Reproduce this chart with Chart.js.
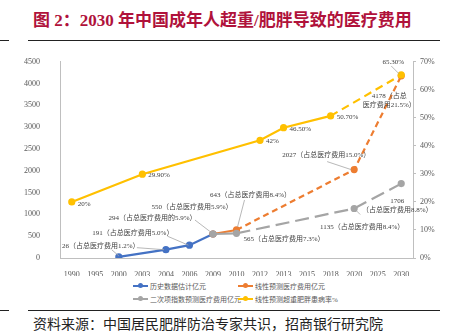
<!DOCTYPE html>
<html>
<head>
<meta charset="utf-8">
<script src="https://cdn.jsdelivr.net/npm/chart.js@4.4.1/dist/chart.umd.min.js"></script>
<style>
  body { margin: 0; background: #fff; width: 450px; height: 334px; overflow: hidden; position: relative; }
  #title { position: absolute; left: 33px; top: 6px; font: bold 17px "Liberation Serif", "Noto Sans CJK SC"; color: #B0123B; white-space: nowrap; }
  .rule { position: absolute; height: 0; border-top: 1.5px solid #222; }
  #footer { position: absolute; left: 33px; top: 313px; font: 14px "Liberation Serif", "Noto Sans CJK SC"; color: #222; white-space: nowrap; }
  #chart { position: absolute; left: 0; top: 45px; }
  .lg { position: absolute; font: 7px "Liberation Serif", "Noto Sans CJK SC"; color: #595959; white-space: nowrap; display: flex; align-items: center; }
  .lg i { display: inline-block; width: 15px; height: 2px; position: relative; margin-right: 2px; }
  .lg i b { position: absolute; left: 5px; top: -2px; width: 5px; height: 5px; border-radius: 50%; }
</style>
</head>
<body>
<div id="title">图 2：2030 年中国成年人超重/肥胖导致的医疗费用</div>
<div class="rule" style="left:0;width:9px;top:40px"></div>
<div class="rule" style="left:28px;width:412px;top:40px"></div>
<canvas id="chart" width="450" height="231"></canvas>
<div id="legend"></div>
<div class="rule" style="left:0;width:9px;top:310px"></div>
<div class="rule" style="left:28px;width:412px;top:310px"></div>
<div id="footer">资料来源：中国居民肥胖防治专家共识，招商银行研究院</div>
<script>
// categories
const years = ['1990','1995','2000','2003','2004','2006','2009','2010','2012','2013','2015','2018','2020','2025','2030'];
// 亿元
const history   = [null,null,26,null,191,294,550,null,null,null,null,null,null,null,null];
const linearEst = [null,null,null,null,null,null,550,643,null,null,null,null,2027,null,4178];
const quadEst   = [null,null,null,null,null,null,550,565,null,null,null,null,1135,null,1706];
// %
const obesityRate = [20,null,null,29.9,null,null,null,null,42,46.5,null,50.7,null,null,65.3];

const names = ['历史数据估计亿元','线性预测医疗费用亿元','二次项指数预测医疗费用亿元','线性预测超重肥胖患病率%'];
const colors = ['#4472C4','#ED7D31','#A5A5A5','#FFC000'];

const serif = '"Liberation Serif", "Noto Sans CJK SC"';
const tickColor = '#595959';

// labels: [dataset, index, text lines, dx, dy, align, leader [x1,y1,x2,y2] relative to point]
const notes = [
  [3, 0, ['20%'], 6, 2, 'left'],
  [3, 3, ['29.90%'], 6, 1, 'left'],
  [3, 8, ['42%'], 6, 1, 'left'],
  [3, 9, ['46.50%'], 6, 1, 'left'],
  [3, 11, ['50.70%'], 6, 1, 'left'],
  [3, 14, ['65.30%'], -8, -13, 'center', [-10,-9,-2,-1]],
  [1, 14, ['4178（占总','医疗费用21.5%）'], -12, 20, 'center'],
  [1, 12, ['2027（占总医疗费用15.0%）'], -28, -14, 'center', [-27,-8,-3,0]],
  [1, 7, ['643（占总医疗费用8.4%）'], 14, -35, 'center', [8,-30,1,-3]],
  [2, 7, ['565（占总医疗费用7.3%）'], 7, 6, 'left'],
  [2, 12, ['1135（占总医疗费用8.4%）'], 8, 19, 'center', [6,6,1,1]],
  [2, 14, ['1706','（占总医疗费用8.8%）'], -4, 18, 'center'],
  [0, 6, ['550（占总医疗费用5.9%）'], -21, -27, 'center', [-18,-14,-1,-1]],
  [0, 5, ['294（占总医疗费用的5.9%）'], -37, -27, 'center', [-22,-9,-1,0]],
  [0, 4, ['191（占总医疗费用5.0%）'], -33, -17, 'center', [-29,-2,-2,0]],
  [0, 2, ['26（占总医疗费用1.2%）'], -18, -11, 'center', [-7,-7,0,-1]]
];

const notePlugin = {
  id: 'notes',
  afterDatasetsDraw(chart) {
    const ctx = chart.ctx;
    ctx.save();
    ctx.font = '7px ' + serif;
    ctx.fillStyle = '#404040';
    ctx.textBaseline = 'middle';
    notes.forEach(n => {
      const [ds, i, lines, dx, dy, align, leader] = n;
      const pt = chart.getDatasetMeta(ds).data[i];
      const px = pt.x, py = pt.y;
      if (leader) {
        ctx.strokeStyle = '#a6a6a6';
        ctx.lineWidth = 0.8;
        ctx.beginPath();
        ctx.moveTo(px + leader[0], py + leader[1]);
        ctx.lineTo(px + leader[2], py + leader[3]);
        ctx.stroke();
      }
      ctx.textAlign = align;
      lines.forEach((t, k) => ctx.fillText(t, px + dx, py + dy + k * 9));
    });
    ctx.restore();
  }
};

function dashFrom(start, dash) {
  return { borderDash: c => c.p0DataIndex >= start ? dash : undefined };
}

new Chart(document.getElementById('chart').getContext('2d'), {
  type: 'line',
  data: {
    labels: years,
    datasets: [
      { label: names[0], data: history, yAxisID: 'y' },
      { label: names[1], data: linearEst, yAxisID: 'y', segment: dashFrom(7, [6, 4]) },
      { label: names[2], data: quadEst, yAxisID: 'y', segment: dashFrom(7, [14, 6]) },
      { label: names[3], data: obesityRate, yAxisID: 'y2', segment: dashFrom(11, [8, 5]) }
    ].map((d, k) => Object.assign(d, {
      borderColor: colors[k], backgroundColor: colors[k], pointBackgroundColor: colors[k],
      pointBorderColor: colors[k], borderWidth: 2.2, pointRadius: 2.5, spanGaps: true,
      tension: 0, order: 4 - k
    }))
  },
  options: {
    responsive: false,
    animation: false,
    layout: { padding: { top: 14, left: 0, right: 0, bottom: 0 } },
    plugins: { legend: { display: false }, tooltip: { enabled: false } },
    scales: {
      x: {
        offset: true,
        grid: { display: false },
        border: { color: '#bfbfbf' },
        ticks: { color: tickColor, font: { family: serif, size: 8 }, padding: 4, maxRotation: 0, autoSkip: false },
        afterFit: s => { s.height = 18; }
      },
      y: {
        position: 'left', min: 0, max: 4500,
        grid: { display: false },
        border: { color: '#bfbfbf' },
        ticks: { stepSize: 500, color: tickColor, font: { family: serif, size: 8 }, padding: 12, callback: v => String(v) },
        afterFit: s => { s.width = 60; }
      },
      y2: {
        position: 'right', min: 0, max: 70,
        grid: { drawOnChartArea: false, tickLength: 3, color: '#bfbfbf' },
        border: { color: '#bfbfbf' },
        ticks: { stepSize: 10, color: tickColor, font: { family: serif, size: 8 }, padding: 4, callback: v => v + '%' },
        afterFit: s => { s.width = 37; }
      }
    }
  },
  plugins: [notePlugin]
});

// legend, two items per row
const lgPos = [[133, 286], [238, 286], [133, 299], [238, 299]];
const lg = document.getElementById('legend');
names.forEach((n, k) => {
  const d = document.createElement('div');
  d.className = 'lg';
  d.style.left = lgPos[k][0] + 'px';
  d.style.top = (lgPos[k][1] - 5) + 'px';
  d.innerHTML = '<i style="background:' + colors[k] + '"><b style="background:' + colors[k] + '"></b></i>' + n;
  lg.appendChild(d);
});
</script>
</body>
</html>
